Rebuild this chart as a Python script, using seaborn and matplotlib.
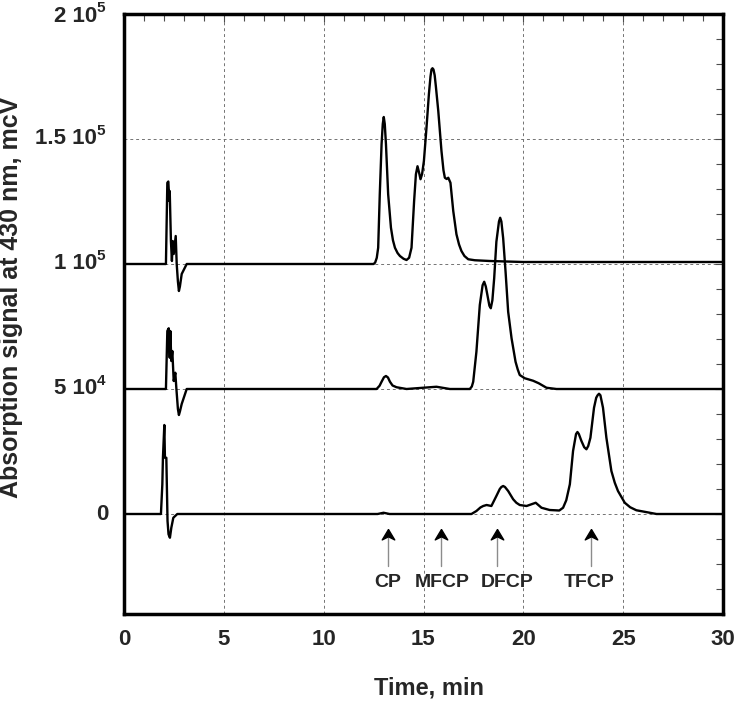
import numpy as np
import pandas as pd
import matplotlib
matplotlib.use("Agg")
import matplotlib.pyplot as plt
import seaborn as sns
from matplotlib.ticker import MultipleLocator, FixedLocator, NullFormatter

# chromatograms (time in min, signal in mcV, traces offset)
top_t = [0, 2.10, 2.17, 2.22, 2.27, 2.29, 2.35, 2.40, 2.44, 2.49, 2.59, 2.64, 2.70, 2.75, 2.80, 2.89, 3.14,
         12.5, 12.58, 12.66, 12.73, 12.81, 12.90, 12.96, 13.01, 13.06, 13.12, 13.23, 13.37, 13.47, 13.57, 13.70,
         13.82, 14.0, 14.15, 14.28, 14.40, 14.53, 14.62, 14.70, 14.78, 14.85, 14.93, 15.02, 15.15, 15.27, 15.35,
         15.40, 15.45, 15.50, 15.56, 15.62, 15.74, 15.90, 16.00, 16.07, 16.16, 16.24, 16.35, 16.49, 16.65, 16.78,
         16.90, 17.05, 17.24, 17.57, 18.32, 19.99, 30]
top_s = [100000, 100000, 132500, 133000, 125200, 129200, 109200, 101200, 109200, 104000, 111200, 100000, 93000, 89200, 91000, 96000, 100000,
         100000, 100600, 102500, 106500, 127900, 147900, 156000, 158800, 156000, 147900, 127900, 114500, 109500, 106500, 104400,
         103200, 102100, 101600, 102500, 106500, 125200, 135900, 139100, 136500, 133900, 136000, 141200, 154500, 167900, 175000,
         177800, 178300, 177800, 175500, 171000, 161200, 145200, 137500, 134500, 134000, 134500, 132500, 121200, 111900, 107800,
         105200, 103200, 101900, 101500, 101200, 100800, 100800]

mid_t = [0, 2.10, 2.17, 2.24, 2.29, 2.32, 2.37, 2.42, 2.49, 2.57, 2.62, 2.70, 2.75, 2.80, 2.89, 3.14,
         12.65, 12.80, 12.90, 13.02, 13.12, 13.22, 13.32, 13.45, 13.65, 14.15, 14.98, 15.65, 16.32, 17.32, 17.42,
         17.49, 17.65, 17.82, 17.96, 18.04, 18.12, 18.20, 18.30, 18.37, 18.45, 18.54, 18.65, 18.78, 18.84, 18.90,
         18.99, 19.11, 19.24, 19.41, 19.61, 19.72, 19.82, 20.07, 20.49, 20.77, 21.16, 21.66, 30]
mid_s = [50000, 50000, 73200, 74300, 62500, 73200, 61200, 65200, 53200, 56500, 50500, 42000, 39600, 41000, 44000, 50000,
         50000, 51300, 52900, 54700, 55200, 54600, 52900, 51400, 50700, 50000, 50500, 50900, 50000, 50000, 51000,
         52900, 64900, 83600, 91500, 92900, 91000, 87600, 83300, 82300, 85500, 94300, 108900, 117000, 118500, 117000,
         110300, 96900, 80900, 70300, 60900, 57800, 55600, 54300, 53300, 52300, 50500, 50000, 50000]

bot_t = [0, 1.85, 1.92, 1.95, 2.02, 2.05, 2.12, 2.18, 2.23, 2.30, 2.37, 2.47, 2.67, 12.7, 13.0, 13.3,
         17.40, 17.65, 17.85, 17.99, 18.16, 18.40, 18.65, 18.82, 18.90, 18.99, 19.08, 19.24, 19.49, 19.65, 19.82,
         20.16, 20.41, 20.62, 20.91, 21.32, 21.80, 21.99, 22.15, 22.33, 22.49, 22.64, 22.71, 22.78, 22.91, 23.05,
         23.16, 23.25, 23.36, 23.54, 23.65, 23.72, 23.79, 23.86, 23.99, 24.16, 24.41, 24.58, 24.74, 25.08, 25.35,
         25.66, 26.67, 30]
bot_s = [0, 0, 11900, 22500, 35600, 22500, 22500, -2800, -8100, -9500, -5500, -1500, 0, 0, 500, 0,
         0, 1200, 2600, 3200, 3600, 3200, 7200, 10000, 10800, 11200, 10800, 9200, 5900, 4500, 3600,
         3200, 3900, 4500, 2500, 1600, 1400, 2500, 5500, 11900, 25200, 32000, 32800, 32000, 29200, 26700,
         25900, 27200, 30500, 42500, 46500, 47500, 48100, 47500, 42500, 30500, 17200, 12500, 9200, 4500, 2700,
         1500, 0, 0]

peak_names = ["CP", "MFCP", "DFCP", "TFCP"]
arrow_x = [13.21, 15.87, 18.70, 23.38]
name_x = [13.21, 15.94, 19.20, 23.30]

ytick_vals = [0, 50000, 100000, 150000, 200000]
ytick_mant = ["0", "5 10", "1 10", "1.5 10", "2 10"]
ytick_exp = ["", "4", "5", "5", "5"]

df = pd.concat([
    pd.DataFrame({"time": top_t, "signal": top_s, "trace": "top"}),
    pd.DataFrame({"time": mid_t, "signal": mid_s, "trace": "mid"}),
    pd.DataFrame({"time": bot_t, "signal": bot_s, "trace": "bot"}),
], ignore_index=True)

sns.set_style("white")
plt.rcParams["font.family"] = ["Liberation Sans", "DejaVu Sans"]
plt.rcParams["font.weight"] = "bold"

fig = plt.figure(figsize=(7.36, 7.02), dpi=100)
ax = fig.add_axes([124 / 736, 1 - 614 / 702, 599 / 736, 600 / 702])

sns.lineplot(data=df, x="time", y="signal", units="trace", estimator=None, sort=False,
             color="black", lw=1.7, ax=ax, zorder=3)

ax.set_xlim(0, 30)
ax.set_ylim(-40000, 200000)
ax.xaxis.set_major_locator(MultipleLocator(5))
ax.xaxis.set_minor_locator(MultipleLocator(1))
ax.yaxis.set_major_locator(FixedLocator(ytick_vals))
ax.yaxis.set_major_formatter(NullFormatter())
ax.yaxis.set_minor_locator(MultipleLocator(10000))

ax.grid(True, which="major", ls=(0, (3, 3)), color="0.45", lw=0.7)
ax.tick_params(which="both", direction="in", top=True, right=True, width=0.8, color="0.3")
ax.tick_params(which="major", length=6, labelsize=16, pad=11)
ax.tick_params(which="minor", length=5)
for s in ax.spines.values():
    s.set_linewidth(2.5)
    s.set_color("black")

# y tick labels with raised exponents, like "1.5 10^5"
for v, m, e in zip(ytick_vals, ytick_mant, ytick_exp):
    xoff = -19.5 if e else -11.5
    yoff = -2 if v == ytick_vals[-1] else 0
    ax.annotate(m, xy=(0, v), xycoords=("axes fraction", "data"), xytext=(xoff, yoff),
                textcoords="offset points", ha="right", va="center", fontsize=16, fontweight="bold")
    if e:
        ax.annotate(e, xy=(0, v), xycoords=("axes fraction", "data"), xytext=(-19.5, yoff + 6),
                    textcoords="offset points", ha="left", va="center", fontsize=11, fontweight="bold")

ax.set_xlabel("Time, min", fontsize=17, fontweight="bold")
ax.set_ylabel("Absorption signal at 430 nm, mcV", fontsize=18, fontweight="bold")
ax.xaxis.set_label_coords(0.509, -0.105)
ax.yaxis.set_label_coords(-0.168, 0.527)

# peak markers: grey shaft, black notched head
head = [(0, 0), (-0.6, -1), (0, -0.7), (0.6, -1), (0, 0)]
for xa, xn, name in zip(arrow_x, name_x, peak_names):
    ax.plot([xa, xa], [-20800, -9000], color="0.55", lw=1.0, zorder=2)
    ax.plot([xa], [-6000], marker=head, ms=15, color="black", mec="black", zorder=4)
    ax.text(xn, -27500, name, ha="center", va="center", fontsize=14, fontweight="bold")

fig.savefig("out.png", dpi=100)
